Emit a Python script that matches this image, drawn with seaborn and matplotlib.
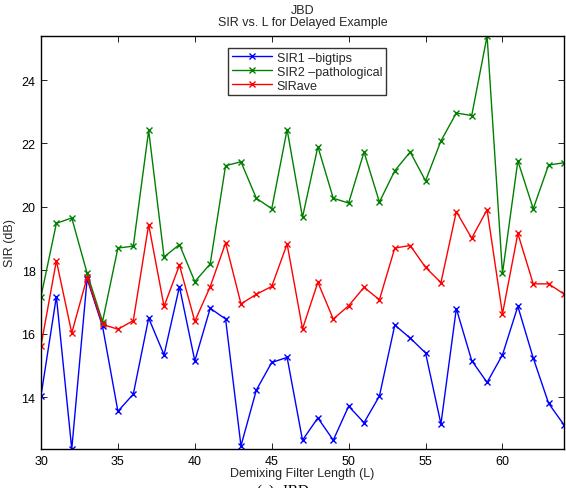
import matplotlib
matplotlib.use("Agg")
import matplotlib.pyplot as plt
import seaborn as sns
import pandas as pd

# Filter lengths and SIR results (dB)
filter_length = list(range(30, 65))

sir1_bigtips = [14.04, 17.17, 12.36, 17.73, 16.23, 13.55, 14.09, 16.49, 15.33, 17.48,
                15.14, 16.80, 16.46, 12.46, 14.22, 15.09, 15.25, 12.64, 13.34, 12.64,
                13.71, 13.19, 14.03, 16.27, 15.86, 15.39, 13.15, 16.79, 15.15, 14.46,
                15.33, 16.86, 15.23, 13.80, 13.12]

sir2_pathological = [17.17, 19.48, 19.65, 17.90, 16.38, 18.70, 18.76, 22.41, 18.42, 18.81,
                     17.64, 18.20, 21.30, 21.42, 20.27, 19.94, 22.44, 19.67, 21.90, 20.27,
                     20.12, 21.73, 20.15, 21.14, 21.73, 20.82, 22.08, 22.96, 22.88, 25.39,
                     17.90, 21.45, 19.94, 21.32, 21.39]

sir_ave = [15.62, 18.30, 16.02, 17.78, 16.29, 16.14, 16.41, 19.44, 16.86, 18.16,
           16.39, 17.48, 18.86, 16.94, 17.24, 17.49, 18.83, 16.15, 17.62, 16.46,
           16.88, 17.46, 17.07, 18.70, 18.78, 18.09, 17.61, 19.85, 19.01, 19.91,
           16.62, 19.16, 17.57, 17.57, 17.25]

series_names = ["SIR1 \u2013bigtips", "SIR2 \u2013pathological", "SIRave"]
series_colors = ["#0000ff", "#008000", "#ff0000"]

sns.set_theme(style="ticks")
plt.rcParams["font.family"] = ["Liberation Sans", "DejaVu Sans"]

frames = []
for name, vals in zip(series_names, [sir1_bigtips, sir2_pathological, sir_ave]):
    frames.append(pd.DataFrame({"L": filter_length, "SIR": vals, "series": name}))
df = pd.concat(frames, ignore_index=True)

fig = plt.figure(figsize=(5.66, 4.89), dpi=100)
ax = fig.add_axes([41 / 566, 1 - 450 / 489, (564 - 41) / 566, (450 - 37) / 489])

sns.lineplot(data=df, x="L", y="SIR", hue="series", style="series",
             palette=series_colors, markers=["x", "x", "x"], dashes=False,
             linewidth=1.0, markersize=5,
             ax=ax, legend=True)

# x markers drawn in the line colour
for line in ax.get_lines():
    line.set_markeredgecolor(line.get_color())
    line.set_markerfacecolor(line.get_color())
    line.set_markeredgewidth(1.0)

ax.set_xlim(30, 64)
ax.set_ylim(min(sir1_bigtips), max(sir2_pathological))
ax.set_xticks([30, 35, 40, 45, 50, 55, 60])
ax.set_yticks([14, 16, 18, 20, 22, 24])
ax.tick_params(direction="in", top=True, right=True, length=4, width=0.6,
               labelsize=9, colors="black", pad=4)
for sp in ax.spines.values():
    sp.set_visible(True)
    sp.set_linewidth(1.0)
    sp.set_color("black")

ax.set_xlabel("Demixing Filter Length (L)", fontsize=9, labelpad=0)
ax.set_ylabel("SIR (dB)", fontsize=9, labelpad=4)
ax.set_title("JBD\nSIR vs. L for Delayed Example", fontsize=9, pad=8, linespacing=0.95)

handles, labels = ax.get_legend_handles_labels()
for h in handles:
    h.set_markeredgecolor(h.get_color())
    h.set_markeredgewidth(1.0)
leg = ax.legend(handles, labels, loc="upper left",
                bbox_to_anchor=((228 - 41) / 523, 1 - (49 - 37) / 413),
                fontsize=9, frameon=True, fancybox=False, edgecolor="black",
                borderpad=0.3, labelspacing=0.15, handlelength=3.2,
                handletextpad=0.4, borderaxespad=0)
leg.get_frame().set_linewidth(1.0)

fig.text(0.5, (489 - 485) / 489, "(a)  JBD", ha="center", va="top",
         fontsize=11, family=["Liberation Serif", "DejaVu Serif"], color="black")

fig.savefig("out.png", dpi=100)
